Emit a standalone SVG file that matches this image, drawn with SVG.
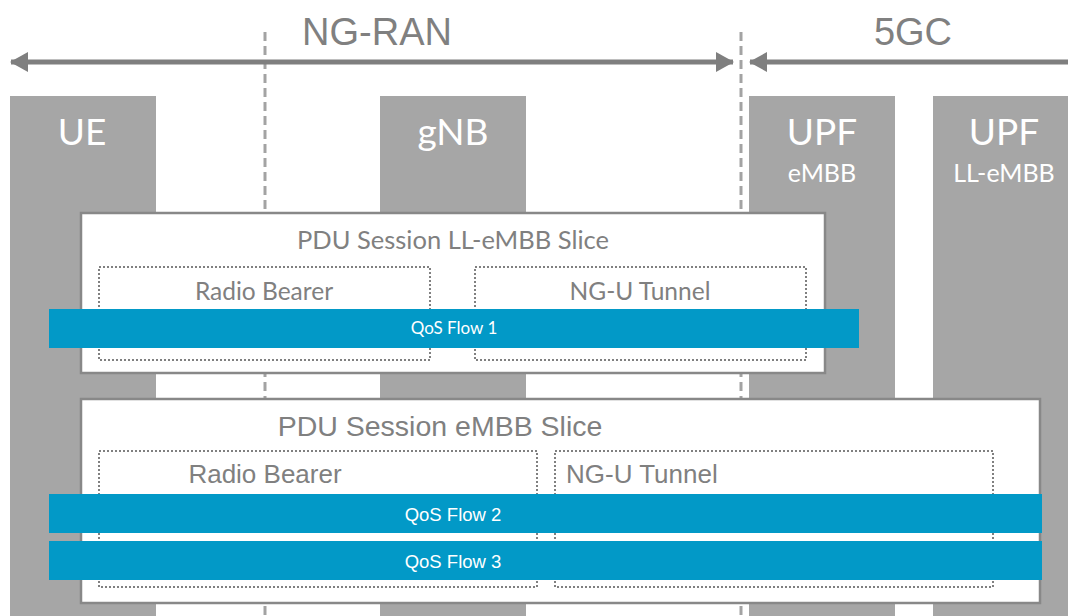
<svg xmlns="http://www.w3.org/2000/svg" width="1068" height="616" viewBox="0 0 1068 616">
<defs>
<marker id="ah" viewBox="0 0 18 20" refX="17" refY="10" markerWidth="18" markerHeight="20" markerUnits="userSpaceOnUse" orient="auto-start-reverse">
<path d="M0,0 L18,10 L0,20 Z" fill="#7f7f7f"/>
</marker>
</defs>
<style>
.col{fill:#a6a6a6}
.clab{font-family:Lato,"Open Sans",sans-serif;fill:#fff;text-anchor:middle}
.dash{stroke:#a3a3a3;stroke-width:3;stroke-dasharray:9 5;fill:none}
.axis{stroke:#7f7f7f;stroke-width:5;fill:none}
.big{font-family:"Liberation Sans",Arial,sans-serif;font-size:38px;fill:#808080;text-anchor:middle}
.sess{fill:#fff;stroke:#888;stroke-width:2.5}
.dot{fill:none;stroke:#808080;stroke-width:2;stroke-dasharray:2 2}
.flow{fill:#0299c7}
.cal{font-family:Lato,"Open Sans",sans-serif;fill:#808080;text-anchor:middle}
.hel{font-family:"Liberation Sans",Arial,sans-serif;fill:#808080}
.fl1{font-family:Lato,"Open Sans",sans-serif;fill:#fff;text-anchor:middle;font-size:17px}
.fl2{font-family:"Liberation Sans",Arial,sans-serif;fill:#fff;text-anchor:middle;font-size:18.5px}
</style>
<g id="ue"><rect class="col" x="10" y="96" width="146" height="520"/><text class="clab" x="82" y="145" font-size="37">UE</text></g>
<g id="gnb"><rect class="col" x="380" y="96" width="146" height="520"/><text class="clab" x="453" y="145" font-size="37">gNB</text></g>
<g id="upf-embb"><rect class="col" x="749" y="96" width="146" height="520"/><text class="clab" x="822" y="145" font-size="37">UPF</text><text class="clab" x="822" y="182" font-size="25">eMBB</text></g>
<g id="upf-ll"><rect class="col" x="933" y="96" width="146" height="520"/><text class="clab" x="1004" y="145" font-size="37">UPF</text><text class="clab" x="1004" y="182" font-size="25">LL-eMBB</text></g>
<g id="connectors">
<line class="dash" x1="265" y1="32" x2="265" y2="616"/>
<line class="dash" x1="741" y1="32" x2="741" y2="616"/>
<line class="axis" x1="11" y1="62" x2="733" y2="62" marker-start="url(#ah)" marker-end="url(#ah)"/>
<line class="axis" x1="750" y1="62" x2="1068" y2="62" marker-start="url(#ah)"/>
</g>
<g id="labels"><text class="big" x="377" y="45">NG-RAN</text><text class="big" x="913" y="45">5GC</text></g>
<g id="session-ll">
<rect class="sess" x="81" y="213" width="744" height="160"/>
<text class="cal" x="453" y="249" font-size="25.5">PDU Session LL-eMBB Slice</text>
<rect class="dot" x="99" y="267" width="331" height="93"/>
<text class="cal" x="264" y="300" font-size="24.5">Radio Bearer</text>
<rect class="dot" x="475" y="267" width="331" height="93"/>
<text class="cal" x="640" y="300" font-size="24.5">NG-U Tunnel</text>
</g>
<g id="qos1"><rect class="flow" x="49" y="309" width="810" height="39"/><text class="fl1" x="454" y="334">QoS Flow 1</text></g>
<g id="session-embb">
<rect class="sess" x="81" y="399" width="959" height="204"/>
<text class="hel" x="440" y="436" font-size="28.5" text-anchor="middle">PDU Session eMBB Slice</text>
<rect class="dot" x="99" y="451" width="438" height="136"/>
<text class="hel" x="265" y="483" font-size="26" text-anchor="middle">Radio Bearer</text>
<rect class="dot" x="555" y="451" width="438" height="136"/>
<text class="hel" x="566" y="483" font-size="26">NG-U Tunnel</text>
</g>
<g id="qos2"><rect class="flow" x="49" y="494" width="993" height="39"/><text class="fl2" x="453" y="521">QoS Flow 2</text></g>
<g id="qos3"><rect class="flow" x="49" y="541" width="993" height="39"/><text class="fl2" x="453" y="568">QoS Flow 3</text></g>
</svg>
